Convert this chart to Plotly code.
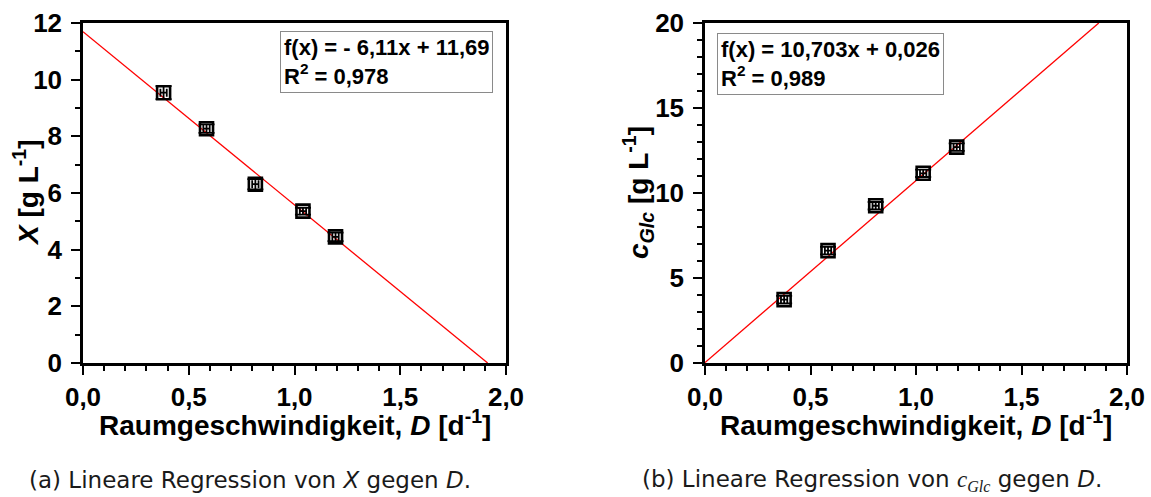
import numpy as np
import plotly.graph_objects as go

# Messwerte (Mittelwerte mit Standardabweichung)
D_a = [0.381, 0.584, 0.815, 1.040, 1.194]
X_a = [9.54, 8.27, 6.31, 5.36, 4.45]
X_err = [0.23, 0.15, 0.18, 0.12, 0.15]
D_err_a = [0.015, 0.015, 0.015, 0.015, 0.015]

D_b = [0.375, 0.583, 0.809, 1.034, 1.193]
c_glc = [3.73, 6.61, 9.25, 11.16, 12.70]
c_err = [0.22, 0.22, 0.22, 0.22, 0.22]
D_err_b = [0.015, 0.015, 0.015, 0.015, 0.015]

# Regressionsparameter
slope_a, icpt_a, r2_a = -6.11, 11.69, "0,978"
slope_b, icpt_b, r2_b = 10.703, 0.026, "0,989"

x_ticks = [0.0, 0.5, 1.0, 1.5, 2.0]

W, H = 1151, 497
FONT = "Liberation Sans"
BLACK = "#000000"


def px(x):
    return x / W


def py(y):
    return 1 - y / H


fig = go.Figure()

# Regressionsgeraden bis zum Rand des Achsenbereichs
xa_end = -icpt_a / slope_a
xa_line = np.array([0.0, xa_end])
fig.add_trace(go.Scatter(x=xa_line, y=slope_a * xa_line + icpt_a, mode="lines",
                         line=dict(color="#ff0000", width=1.3),
                         xaxis="x", yaxis="y", showlegend=False))
xb_end = (20 - icpt_b) / slope_b
xb_line = np.array([0.0, xb_end])
fig.add_trace(go.Scatter(x=xb_line, y=slope_b * xb_line + icpt_b, mode="lines",
                         line=dict(color="#ff0000", width=1.3),
                         xaxis="x2", yaxis="y2", showlegend=False))

marker = dict(symbol="square-open", size=13, color=BLACK, line=dict(color=BLACK, width=2.6))

fig.add_trace(go.Scatter(
    x=D_a, y=X_a, mode="markers", marker=marker, xaxis="x", yaxis="y", showlegend=False,
    error_y=dict(type="data", array=X_err, color=BLACK, thickness=1.8, width=8),
    error_x=dict(type="data", array=D_err_a, color=BLACK, thickness=1.8, width=4)))
fig.add_trace(go.Scatter(
    x=D_b, y=c_glc, mode="markers", marker=marker, xaxis="x2", yaxis="y2", showlegend=False,
    error_y=dict(type="data", array=c_err, color=BLACK, thickness=1.8, width=8),
    error_x=dict(type="data", array=D_err_b, color=BLACK, thickness=1.8, width=4)))

tickfont = dict(family=FONT, size=26, color=BLACK, weight="bold")


def xaxis(domain, anchor):
    return dict(domain=domain, anchor=anchor, range=[0, 2], tickvals=x_ticks, tickformat=".1f",
                showline=True, mirror=True, linecolor=BLACK, linewidth=2.5,
                ticks="outside", ticklen=9, tickwidth=2.2, tickcolor=BLACK,
                minor=dict(ticks="outside", ticklen=5, tickwidth=1.8, dtick=0.1, tickcolor=BLACK),
                showgrid=False, zeroline=False, tickfont=tickfont, automargin=False)


def yaxis(domain, anchor, ymax, dtick):
    return dict(domain=domain, anchor=anchor, range=[0, ymax], dtick=dtick, tick0=0,
                showline=True, mirror=True, linecolor=BLACK, linewidth=2.5,
                ticks="outside", ticklen=9, tickwidth=2.2, tickcolor=BLACK,
                minor=dict(ticks="outside", ticklen=5, tickwidth=1.8, dtick=1, tickcolor=BLACK),
                showgrid=False, zeroline=False, tickfont=tickfont, ticklabelstandoff=4,
                automargin=False)


ydom = [py(363), py(23)]
fig.update_layout(
    width=W, height=H, margin=dict(l=0, r=0, t=0, b=0, autoexpand=False),
    paper_bgcolor="white", plot_bgcolor="white", separators=", ",
    xaxis=xaxis([px(83), px(506)], "y"),
    yaxis=yaxis(ydom, "x", 12, 2),
    xaxis2=xaxis([px(705), px(1127)], "y2"),
    yaxis2=yaxis(ydom, "x2", 20, 5),
)

title_font = dict(family=FONT, size=28, color=BLACK, weight="bold")
box_font = dict(family=FONT, size=22, color=BLACK, weight="bold")
cap_font = dict(family="DejaVu Sans", size=23, color="#1a1a1a")

annotations = [
    # Achsentitel
    dict(x=px(294.5), y=py(423), text="Raumgeschwindigkeit, <i>D</i> [d<sup>-1</sup>]",
         font=title_font),
    dict(x=px(916), y=py(423), text="Raumgeschwindigkeit, <i>D</i> [d<sup>-1</sup>]",
         font=title_font),
    dict(x=px(26), y=py(193), text="<i>X</i> [g L<sup>-1</sup>]", textangle=-90, font=title_font),
    dict(x=px(638), y=py(193), text="<i>c</i><sub><i>Glc</i></sub> [g L<sup>-1</sup>]",
         textangle=-90, font=title_font),
    # Regressionsergebnisse
    dict(x=px(280), y=py(31), xanchor="left", yanchor="top", align="left",
         text=f"f(x) = - 6,11x + 11,69<br>R<sup>2</sup> = {r2_a}", font=box_font,
         bordercolor="#8a8a8a", borderwidth=1, borderpad=3, bgcolor="white"),
    dict(x=px(717), y=py(33), xanchor="left", yanchor="top", align="left",
         text=f"f(x) = 10,703x + 0,026<br>R<sup>2</sup> = {r2_b}", font=box_font,
         bordercolor="#8a8a8a", borderwidth=1, borderpad=3, bgcolor="white"),
    # Unterschriften
    dict(x=px(250), y=py(480), text="(a) Lineare Regression von <i>X</i> gegen <i>D</i>.",
         font=cap_font),
    dict(x=px(872), y=py(480),
         text="(b) Lineare Regression von <span style='font-family:Liberation Serif'><i>c</i>"
              "<sub><i>Glc</i></sub></span> gegen <i>D</i>.",
         font=cap_font),
]
for a in annotations:
    a.setdefault("xref", "paper")
    a.setdefault("yref", "paper")
    a.setdefault("xanchor", "center")
    a.setdefault("yanchor", "middle")
    a.setdefault("showarrow", False)
fig.update_layout(annotations=annotations)

fig.write_html("out.html")
